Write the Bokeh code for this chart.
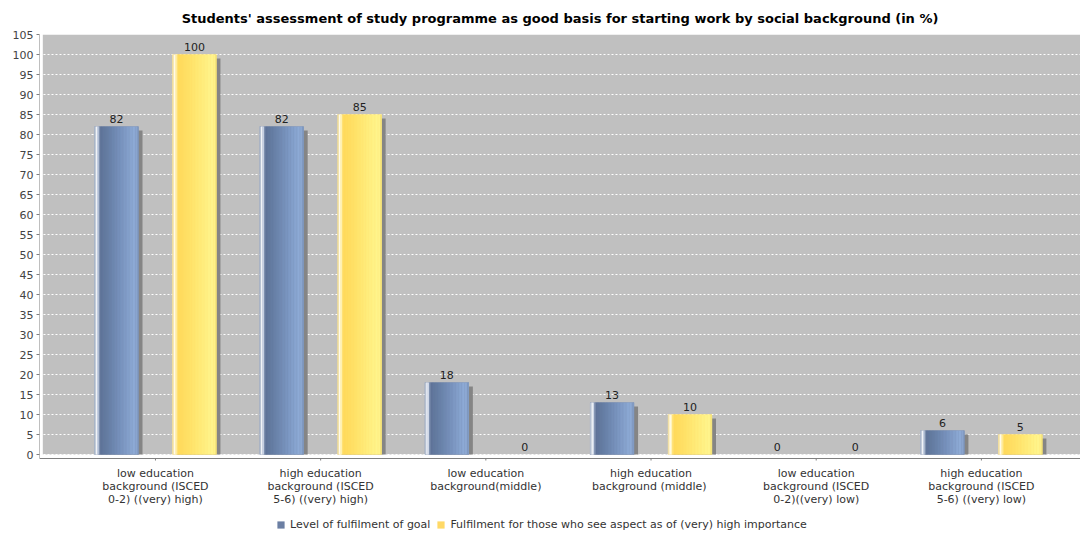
from bokeh.plotting import figure
from bokeh.models import ColumnDataSource, Range1d, BoxAnnotation, Legend, LegendItem, FixedTicker
from bokeh.transform import dodge
from bokeh.core.properties import value
from bokeh.embed import file_html
from bokeh.resources import INLINE

categories = [
    "low education\nbackground (ISCED\n0-2) ((very) high)",
    "high education\nbackground (ISCED\n5-6) ((very) high)",
    "low education\nbackground(middle)",
    "high education\nbackground  (middle)",
    "low education\nbackground (ISCED\n0-2)((very) low)",
    "high education\nbackground (ISCED\n5-6) ((very) low)",
]
fulfilment = [82, 82, 18, 13, 0, 6]
importance = [100, 85, 0, 10, 0, 5]
series_names = ["Level of fulfilment of goal",
                "Fulfilment for those who see aspect as of (very) high importance"]
y_ticks = list(range(0, 106, 5))
Y_MAX = 105

FONT = "DejaVu Sans"
BAR_W = 0.267
OFFS = [-0.236, 0.236]
SHADOW_DX = 0.024
X_MIN, X_MAX = -0.202, 6.10

blue_stops = [(0.00, "#8e9cb5"), (0.03, "#d5dce8"), (0.06, "#ffffff"), (0.09, "#c0cce0"),
              (0.13, "#5d7297"), (0.30, "#657da3"), (0.60, "#7893be"), (0.90, "#8eabd6"),
              (0.96, "#8aa5cf"), (1.00, "#7b93bb")]
yellow_stops = [(0.00, "#e0cc88"), (0.03, "#fff0c0"), (0.06, "#ffffff"), (0.09, "#fff0a8"),
                (0.13, "#ffd95a"), (0.40, "#ffe268"), (0.90, "#fff58c"), (0.96, "#fff38a"),
                (1.00, "#eedc70")]


def interp(stops, f):
    for (f0, c0), (f1, c1) in zip(stops[:-1], stops[1:]):
        if f0 <= f <= f1:
            t = 0 if f1 == f0 else (f - f0) / (f1 - f0)
            a = [int(c0[i:i + 2], 16) for i in (1, 3, 5)]
            b = [int(c1[i:i + 2], 16) for i in (1, 3, 5)]
            return "#%02x%02x%02x" % tuple(round(a[k] + (b[k] - a[k]) * t) for k in range(3))
    return stops[-1][1]


n = len(categories)
src = ColumnDataSource(dict(
    cat=categories,
    x=[i + 0.5 for i in range(n)],
    v0=fulfilment,
    v1=importance,
    s0=[max(v - 1, 0) for v in fulfilment],
    s1=[max(v - 1, 0) for v in importance],
    t0=[str(v) for v in fulfilment],
    t1=[str(v) for v in importance],
))

p = figure(x_range=Range1d(X_MIN, X_MAX), y_range=Range1d(-20, Y_MAX),
           frame_width=1041, frame_height=500, x_axis_location=None,
           min_border_left=39, min_border_right=0, min_border_top=26, min_border_bottom=0,
           output_backend="svg", toolbar_location=None,
           title="Students' assessment of study programme as good basis for starting work by social background (in %)")
p.title.text_font = FONT
p.title.text_font_size = "13px"
p.title.text_font_style = "bold"
p.title.text_color = "#000000"
p.title.align = "center"
p.title.padding = 2
p.title.standoff = 13

p.background_fill_color = "#ffffff"
p.border_fill_color = "#ffffff"
p.outline_line_color = None

bg = BoxAnnotation(left=X_MIN + 0.02, right=X_MAX + 1, bottom=0, top=Y_MAX, fill_color="#c0c0c0",
                   fill_alpha=1, line_color=None, level="image")
p.add_layout(bg)

p.xgrid.visible = False
p.ygrid.ticker = FixedTicker(ticks=y_ticks)
p.ygrid.grid_line_color = "#ffffff"
p.ygrid.grid_line_dash = "2 2"
p.ygrid.grid_line_width = 1

p.yaxis.ticker = FixedTicker(ticks=y_ticks)
p.yaxis.axis_line_color = None
p.yaxis.major_tick_line_color = "#808080"
p.yaxis.major_tick_out = 3
p.yaxis.major_tick_in = 0
p.yaxis.minor_tick_line_color = None
p.yaxis.major_label_text_font = FONT
p.yaxis.major_label_text_font_size = "11px"
p.yaxis.major_label_text_color = "#444444"
p.yaxis.major_label_standoff = 3

# axis lines drawn as segments (y axis down to -1, x axis at -1)
p.segment(x0=[X_MIN], y0=[-1], x1=[X_MIN], y1=[Y_MAX], line_color="#808080", line_width=1)
p.segment(x0=[X_MIN], y0=[-1], x1=[X_MAX + 1], y1=[-1], line_color="#808080", line_width=1)
# category ticks and labels
p.segment(x0="x", y0=-1, x1="x", y1=-1.5, source=src, line_color="#808080")
p.text(x="x", y=-1, text="cat", source=src, y_offset=8, text_align="center",
       text_baseline="top", text_line_height=1.0,
       text_font=value(FONT), text_font_size="11px", text_color="#333333")

legend_items = []
for k, (stops, base) in enumerate([(blue_stops, "#6b7fa3"), (yellow_stops, "#ffd966")]):
    off = OFFS[k]
    p.vbar(x=dodge("x", off + SHADOW_DX), top=f"s{k}", bottom=0, width=BAR_W,
           source=src, fill_color="#858585", line_color=None)
    base_r = p.vbar(x=dodge("x", off), top=f"v{k}", bottom=0, width=BAR_W,
                    source=src, fill_color=base, line_color=None)
    legend_items.append(LegendItem(label=series_names[k], renderers=[base_r]))
    N = 30
    for i in range(N):
        f = (i + 0.5) / N
        col = interp(stops, f)
        p.vbar(x=dodge("x", off - BAR_W / 2 + f * BAR_W), top=f"v{k}", bottom=0,
               width=BAR_W / N * 1.15, source=src, fill_color=col, line_color=None)
    p.text(x=dodge("x", off), y=f"v{k}", text=f"t{k}", source=src,
           text_align="center", text_baseline="bottom", y_offset=-4,
           text_font=value(FONT), text_font_size="11px", text_color="#222222")

legend = Legend(items=legend_items, orientation="horizontal", location=(237, 3),
                label_text_font=FONT, label_text_font_size="11px", label_text_color="#333333",
                glyph_width=9, glyph_height=9, label_standoff=5, spacing=6,
                padding=0, margin=0, border_line_color=None, background_fill_alpha=0,
                label_height=10)
p.add_layout(legend)

open("out.html", "w").write(file_html(p, INLINE))
